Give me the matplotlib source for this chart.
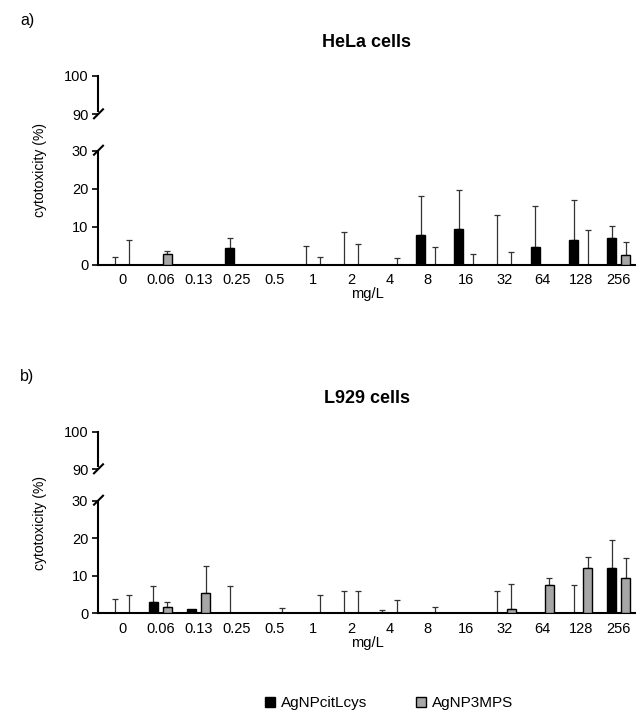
import numpy as np
import matplotlib
matplotlib.use("Agg")
import matplotlib.pyplot as plt
from matplotlib.patches import Patch

plt.rcParams['font.family'] = ['Liberation Sans', 'DejaVu Sans']

# Data (cytotoxicity %, mean and upper SD)
doses = ["0", "0.06", "0.13", "0.25", "0.5", "1", "2", "4", "8", "16", "32", "64", "128", "256"]

hela_cit = [0, 0, 0, 4.4, 0, 0, 0, 0, 7.8, 9.5, 0, 4.8, 6.6, 7.0]
hela_cit_sd = [2.1, 0, 0, 2.8, 0, 5.1, 8.6, 0, 10.3, 10.1, 13.0, 10.7, 10.5, 3.2]
hela_mps = [0, 2.9, 0, 0, 0, 0, 0, 0, 0, 0, 0, 0, 0, 2.7]
hela_mps_sd = [6.6, 0.7, 0, 0, 0, 2.1, 5.5, 1.85, 4.6, 3.0, 3.5, 0, 9.1, 3.4]

l929_cit = [0, 2.9, 1.2, 0, 0, 0, 0, 0, 0, 0, 0, 0, 0, 12.1]
l929_cit_sd = [3.8, 4.5, 0, 7.2, 0, 0, 6.0, 1.0, 0, 0, 6.0, 0, 7.6, 7.3]
l929_mps = [0, 1.7, 5.5, 0, 0, 0, 0, 0, 0, 0.2, 1.2, 7.6, 12.1, 9.4]
l929_mps_sd = [4.8, 1.3, 7.2, 0, 1.5, 4.9, 6.0, 3.5, 1.6, 0, 6.7, 1.9, 2.8, 5.3]

W, H = 636, 710
GRAY = "#a6a6a6"


def px_axes(fig, left, top, right, bottom):
    """Add axes from pixel coords (top-left origin)."""
    return fig.add_axes([left / W, 1 - bottom / H, (right - left) / W, (bottom - top) / H])


def draw_bars(ax, means, sds, x, off, color):
    means = np.asarray(means, float)
    sds = np.asarray(sds, float)
    ax.bar(x + off, means, width=0.24, color=color, edgecolor="black", linewidth=1.0, zorder=3)
    m = sds > 0
    ax.errorbar(x[m] + off, means[m], yerr=[np.zeros(m.sum()), sds[m]], fmt="none",
                ecolor="#333333", elinewidth=0.9, capsize=2.2, capthick=0.9, zorder=2)


def panel(fig, label, title, top_px, cit, cit_sd, mps, mps_sd):
    # top_px: (y of 100, y of 90, y of 30, y of 0)
    y100, y90, y30, y0 = top_px
    x = np.arange(len(doses))
    xlim = (-0.63, 13.45)

    axt = px_axes(fig, 98, y100, 636, y90)
    axb = px_axes(fig, 98, y30, 636, y0)

    draw_bars(axb, cit, cit_sd, x, -0.185, "black")
    draw_bars(axb, mps, mps_sd, x, 0.185, GRAY)

    axb.set_xlim(*xlim)
    axb.set_ylim(0, 30)
    axb.set_yticks([0, 10, 20, 30])
    axb.set_xticks(x)
    axb.set_xticklabels(doses)
    axb.tick_params(axis="x", length=0, pad=6, labelsize=10.5)
    axb.tick_params(axis="y", length=4, width=1.2, labelsize=10.5, pad=3)
    for s in ["top", "right"]:
        axb.spines[s].set_visible(False)
    axb.spines["left"].set_linewidth(1.5)
    axb.spines["bottom"].set_linewidth(1.5)
    axb.set_xlabel("mg/L", fontsize=10.5, labelpad=0)

    axt.set_xlim(*xlim)
    axt.set_ylim(90, 100)
    axt.set_yticks([90, 100])
    axt.set_xticks([])
    axt.tick_params(axis="y", length=4, width=1.2, labelsize=10.5, pad=3)
    for s in ["top", "right", "bottom"]:
        axt.spines[s].set_visible(False)
    axt.spines["left"].set_linewidth(1.5)
    axt.spines["left"].set_bounds(90.8, 100)

    # break marks
    kw = dict(color="black", lw=1.5, clip_on=False, transform=fig.transFigure)
    for yb in (y90, y30):
        yf = 1 - yb / H
        fig.add_artist(plt.Line2D([94 / W, 103 / W], [yf - 4 / H, yf + 5 / H], **kw))

    fig.text(20 / W, 1 - (y100 - 55) / H, label, fontsize=11.5, va="center")
    fig.text(367 / W, 1 - (y100 - 33) / H, title, fontsize=13, fontweight="bold",
             ha="center", va="center")
    fig.text(40 / W, 1 - ((y100 + y0) / 2) / H, "cytotoxicity (%)", fontsize=10,
             rotation=90, ha="center", va="center")


fig = plt.figure(figsize=(W / 100, H / 100), dpi=100)

panel(fig, "a)", "HeLa cells", (75.7, 114.3, 150.7, 265), hela_cit, hela_cit_sd, hela_mps, hela_mps_sd)
panel(fig, "b)", "L929 cells", (431.7, 469.3, 500.7, 613.3), l929_cit, l929_cit_sd, l929_mps, l929_mps_sd)

handles = [Patch(facecolor="black", edgecolor="black", label="AgNPcitLcys"),
           Patch(facecolor=GRAY, edgecolor="black", label="AgNP3MPS")]
fig.legend(handles=handles, loc="center", bbox_to_anchor=(389 / W, 1 - 703 / H), ncol=2,
           frameon=False, fontsize=11, handlelength=0.65, handleheight=0.65,
           handletextpad=0.4, columnspacing=3.2)

fig.savefig("out.png", dpi=100)
